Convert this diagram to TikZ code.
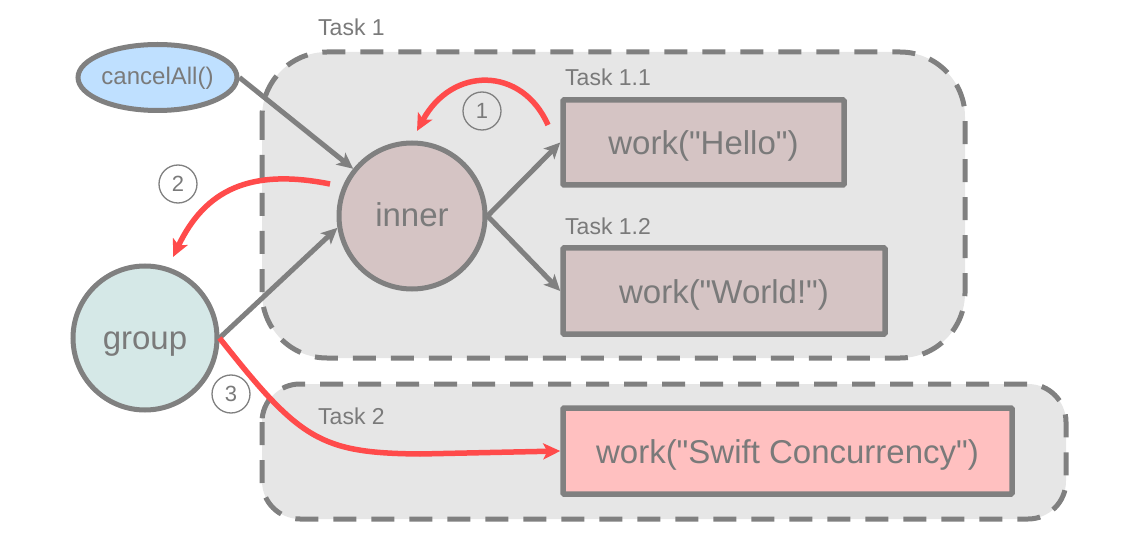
\documentclass[tikz,border=0pt]{standalone}
\usepackage{fontspec}
\setmainfont{Liberation Sans}[Ligatures=TeXOff]
\usetikzlibrary{shapes.geometric,arrows.meta}
\newcommand{\sq}{\symbol{34}}
\definecolor{strk}{HTML}{808080}
\definecolor{txt}{HTML}{7A7A7A}
\definecolor{taskbg}{HTML}{E6E6E6}
\definecolor{workfill}{HTML}{D5C4C4}
\definecolor{groupfill}{HTML}{D5E8E7}
\definecolor{cancelfill}{HTML}{BFE0FF}
\definecolor{swiftfill}{HTML}{FFC0C0}
\definecolor{redarr}{HTML}{FF4B4B}
\tikzset{
  taskbox/.style={draw=strk, fill=taskbg, line width=5pt, dash pattern=on 23pt off 15pt},
  tasklabel/.style={anchor=base west, inner sep=0pt, text=txt, font=\fontsize{23}{26}\selectfont},
  workbox/.style={draw=strk, line width=5.5pt, rectangle, inner sep=0pt, text=txt,
    font=\fontsize{33}{38}\selectfont, rounded corners=1pt, text height=25pt, text depth=0pt},
  bignode/.style={draw=strk, line width=5pt, circle, inner sep=0pt, text=txt,
    font=\fontsize{33}{38}\selectfont, text height=22pt, text depth=0pt},
  numcirc/.style={draw=strk, line width=1.3pt, circle, minimum size=38pt, inner sep=0pt,
    text=txt, font=\fontsize{22}{24}\selectfont},
  garrow/.style={draw=strk, line width=5pt, -{Stealth[length=16pt,width=15pt,inset=4pt]}},
  rarrow/.style={draw=redarr, line width=5.5pt, -{Stealth[length=17pt,width=16pt,inset=4pt]}},
}
\begin{document}
\begin{tikzpicture}[x=1pt,y=-1pt]
\useasboundingbox (0,0) rectangle (1122,548);
% task containers
\draw[taskbox, rounded corners=65pt] (262,52) rectangle (965,358);
\draw[taskbox, rounded corners=38pt] (262,384) rectangle (1066,519);
\node[tasklabel] (t1) at (318,36) {Task 1};
\node[tasklabel] (t11) at (565,86) {Task 1.1};
\node[tasklabel] (t12) at (565,235) {Task 1.2};
\node[tasklabel] (t2) at (318,424) {Task 2};
% nodes
\node[workbox, fill=workfill, minimum width=281pt, minimum height=85pt] (hello) at (703.5,142.5) {work(\sq Hello\sq)};
\node[workbox, fill=workfill, minimum width=322pt, minimum height=86pt] (world) at (724,291) {work(\sq World!\sq)};
\node[workbox, fill=swiftfill, minimum width=449pt, minimum height=86pt] (swift) at (787.5,451) {work(\sq Swift Concurrency\sq)};
\node[bignode, fill=workfill, minimum size=146pt] (inner) at (412,216) {inner};
\node[bignode, fill=groupfill, minimum size=144pt] (group) at (145,338) {group};
\node[draw=strk, line width=5pt, ellipse, fill=cancelfill, minimum width=159pt, minimum height=66pt,
  inner sep=0pt, text=txt, font=\fontsize{24}{26}\selectfont, text height=15pt, text depth=0pt] (cancel) at (157.5,77.5) {cancelAll()};
% number markers
\node[numcirc] (n1) at (482,111) {1};
\node[numcirc] (n2) at (178,184) {2};
\node[numcirc] (n3) at (231,394) {3};
% gray arrows
\draw[garrow] (cancel.east) -- (inner);
\draw[garrow] (group.east) -- (inner.189);
\draw[garrow] (inner.east) -- (hello.west);
\draw[garrow] (inner.east) -- (world.west);
% red arrows
\coordinate (r1s) at (548,125);
\coordinate (r1e) at (417,131);
\coordinate (r2s) at (330,184);
\coordinate (r2e) at (173,257);
\draw[rarrow] (r1s) .. controls (522,66) and (452,66) .. (r1e);
\draw[rarrow] (r2s) .. controls (250,168) and (205,190) .. (r2e);
\draw[rarrow] (group.east) .. controls (300,440) and (320,453) .. (420,454) -- (swift.west);
\end{tikzpicture}
\end{document}
